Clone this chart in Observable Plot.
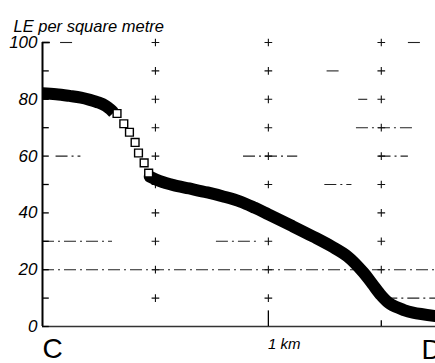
<!DOCTYPE html>
<html>
<head>
<meta charset="utf-8">
<script src="https://cdn.jsdelivr.net/npm/d3@7"></script>
<script src="https://cdn.jsdelivr.net/npm/@observablehq/plot@0.6"></script>
<style>
  html, body { margin: 0; padding: 0; background: #fff; }
  svg { display: block; }
</style>
</head>
<body>
<div id="chart"></div>
<script>
// ---- data (km along transect, LE per square metre) ----
const title = "LE per square metre";
const yTickValues = [0, 10, 20, 30, 40, 50, 60, 70, 80, 90, 100];
const yLabelValues = [0, 20, 40, 60, 80, 100];
const xGridKm = [0.5, 1, 1.5];
const xTickLabel = "1 km";
const startLabel = "C";
const endLabel = "D";

const solidAKm  = [0, 0.06, 0.12, 0.17, 0.21, 0.25, 0.28, 0.30, 0.315];
const solidAVal = [82.1, 81.8, 81.2, 80.6, 79.8, 78.8, 77.7, 76.5, 75.3];

const openKm  = [0.33, 0.36, 0.385, 0.41, 0.425, 0.45, 0.47];
const openVal = [75.0, 71.4, 68.4, 64.8, 61.1, 57.6, 54.0];

const solidBKm  = [0.475, 0.52, 0.58, 0.65, 0.73, 0.80, 0.876, 0.94, 1.0, 1.1, 1.2, 1.28, 1.35, 1.42, 1.46, 1.5, 1.54, 1.6, 1.64, 1.74];
const solidBVal = [52.8, 51.2, 49.8, 48.6, 47.2, 45.8, 44.0, 41.8, 39.5, 35.6, 31.6, 28.2, 24.7, 19.1, 15.0, 10.9, 7.9, 5.8, 4.9, 3.7];

// fragments of the dash-dot reference lines: level, from km, to km
const gridLevel = [20, 30, 30, 60, 60, 60, 70, 90, 100, 100, 50, 10, 80];
const gridFrom  = [0.0, 0.0, 0.77, 0.06, 0.89, 1.49, 1.39, 1.26, 0.08, 1.62, 1.25, 1.52, 1.4];
const gridTo    = [1.74, 0.31, 0.95, 0.17, 1.13, 1.62, 1.65, 1.33, 0.15, 1.68, 1.37, 1.74, 1.44];

// ---- tables built from the arrays ----
const lineA = solidAKm.map((x, i) => ({x, y: solidAVal[i]}));
const lineB = solidBKm.map((x, i) => ({x, y: solidBVal[i]}));
const opens = openKm.map((x, i) => ({x, y: openVal[i]}));
const crosses = xGridKm.flatMap(x => yTickValues.filter(v => v > 0).map(y => ({x, y})));
const grid = gridLevel.map((y, i) => ({y, x1: gridFrom[i], x2: gridTo[i]}));

const font = "'Liberation Sans', Arial, Helvetica, sans-serif";

const chart = Plot.plot({
  width: 435,
  height: 363,
  marginLeft: 42,
  marginRight: 0,
  marginTop: 42,
  marginBottom: 37,
  style: {fontFamily: font, background: "#fff", color: "#000"},
  x: {domain: [0, 1.74], axis: null},
  y: {domain: [0, 100], axis: null},
  marks: [
    // dash-dot grid fragments
    Plot.ruleY(grid, {y: "y", x1: "x1", x2: "x2", stroke: "#222", strokeWidth: 1.1, strokeDasharray: "12,4,2,4"}),
    // grid crosses
    Plot.dot(crosses, {x: "x", y: "y", symbol: "plus", r: 2.6, stroke: "#111", strokeWidth: 1.1}),
    // axes
    Plot.ruleX([0], {y1: 0, y2: 100, stroke: "#000", strokeWidth: 2}),
    Plot.ruleY([100], {x1: 0, x2: 0.035, stroke: "#000", strokeWidth: 1.5}),
    Plot.ruleY([0], {x1: 0, x2: 1.74, stroke: "#333", strokeWidth: 1.5}),
    Plot.ruleY(yTickValues, {x1: 0, x2: 0.03, stroke: "#000", strokeWidth: 1.3}),
    Plot.ruleX([1], {y1: 0, y2: 5.5, stroke: "#000", strokeWidth: 1.3}),
    Plot.ruleX([1.5], {y1: 0, y2: 2, stroke: "#000", strokeWidth: 1.3}),
    Plot.axisY({ticks: yLabelValues, tickSize: 0, tickPadding: 5, label: null, fontSize: 17, fontStyle: "italic", anchor: "left"}),
    // curve
    Plot.line(lineA, {x: "x", y: "y", stroke: "#000", strokeWidth: 12, curve: "catmull-rom", strokeLinecap: "butt"}),
    Plot.line(lineB, {x: "x", y: "y", stroke: "#000", strokeWidth: 12, curve: "catmull-rom", strokeLinecap: "round"}),
    Plot.dot(opens, {x: "x", y: "y", symbol: "square", r: 4.4, fill: "#fff", stroke: "#000", strokeWidth: 1.4}),
    // texts
    Plot.text([title], {frameAnchor: "top-left", dx: -29, dy: -11, fontSize: 16.5, fontStyle: "italic", textAnchor: "start", lineAnchor: "bottom"}),
    Plot.text([xTickLabel], {x: [1], y: [0], dx: 16, dy: 18, fontSize: 15, fontStyle: "italic"}),
    Plot.text([startLabel], {x: [0], y: [0], dx: 10, dy: 23, fontSize: 28, textAnchor: "middle"}),
    Plot.text([endLabel], {x: [1.74], y: [0], dx: -14, dy: 24, fontSize: 28, textAnchor: "start"})
  ]
});
document.getElementById("chart").appendChild(chart);
</script>
</body>
</html>
